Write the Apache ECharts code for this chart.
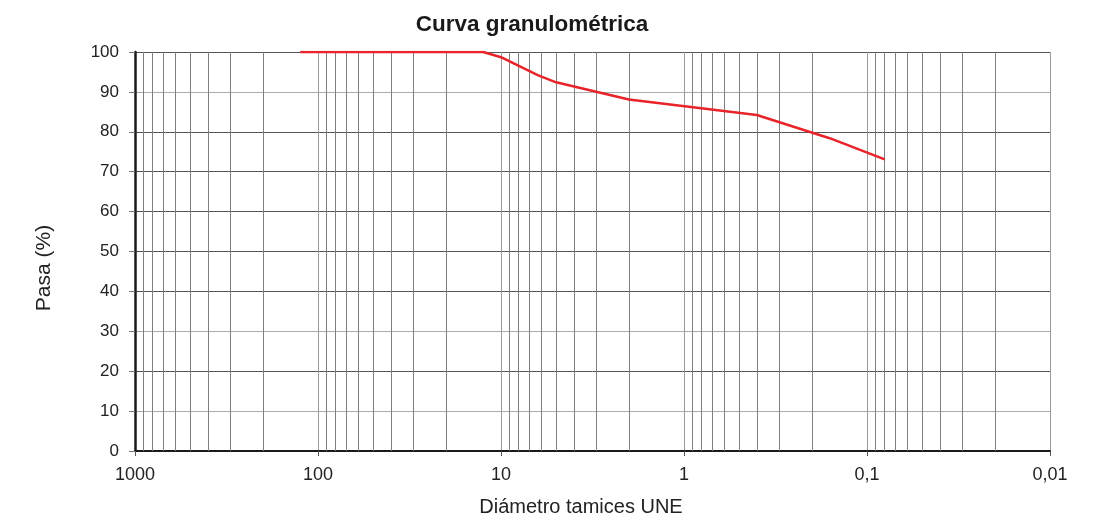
<!DOCTYPE html>
<html><head><meta charset="utf-8">
<script src="https://cdn.jsdelivr.net/npm/echarts@6/dist/echarts.min.js"></script>
<style>html,body{margin:0;padding:0;background:#fff}#c{width:1100px;height:518px}</style>
</head><body><div id="c"></div>
<script>
// Sieve sizes (mm) and percentage passing
const sieveSizes = [125, 80, 63, 50, 40, 25, 20, 12.5, 10, 6.3, 5, 2, 0.4, 0.16, 0.08];
const passing    = [100, 100, 100, 100, 100, 100, 100, 100, 98.7, 94.2, 92.4, 88.1, 84.2, 78.4, 73.1];
const decades = [0.01, 0.1, 1, 10, 100, 1000];
const minorMultipliers = [2, 3, 4, 5, 6, 7, 8, 9];
const yTicks = [0, 10, 20, 30, 40, 50, 60, 70, 80, 90, 100];

const minorLines = [];
decades.slice(0, -1).forEach(d => minorMultipliers.forEach(m => minorLines.push({ xAxis: +(d * m).toPrecision(3) })));

const FONT = '"Liberation Sans", Arial, sans-serif';
const chart = echarts.init(document.getElementById('c'), null, { renderer: 'canvas' });
chart.setOption({
  animation: false,
  backgroundColor: '#fff',
  title: {
    text: 'Curva granulométrica',
    left: 527, top: 8, textAlign: 'center',
    textStyle: { fontFamily: FONT, fontSize: 22.5, fontWeight: 'bold', color: '#1a1a1a' }
  },
  grid: { left: 135, right: 50, top: 52, bottom: 67, outerBoundsMode: 'none', containLabel: false },
  xAxis: {
    type: 'log', logBase: 10, inverse: true, min: 0.01, max: 1000,
    name: 'Diámetro tamices UNE', nameLocation: 'middle', nameGap: 46,
    nameTextStyle: { fontFamily: FONT, fontSize: 20, color: '#222', padding: [0, 23, 0, 0] },
    axisLine: { show: true, onZero: false, lineStyle: { color: '#1a1a1a', width: 2 } },
    axisTick: { show: true, length: 5, lineStyle: { color: '#555' } },
    axisLabel: {
      fontFamily: FONT, fontSize: 18, color: '#222', margin: 15,
      formatter: v => String(+v.toPrecision(3)).replace('.', ',')
    },
    splitLine: { show: true, lineStyle: { color: '#9a9a9a', width: 1 } }
  },
  yAxis: {
    type: 'value', min: 0, max: 100, interval: 10,
    name: 'Pasa (%)', nameLocation: 'middle', nameGap: 80,
    nameTextStyle: { fontFamily: FONT, fontSize: 21, color: '#222', padding: [0, 33, 0, 0] },
    axisLine: { show: true, lineStyle: { color: '#1a1a1a', width: 2.5 } },
    axisTick: { show: true, length: 6, lineStyle: { color: '#777' } },
    axisLabel: { fontFamily: FONT, fontSize: 17, color: '#222', margin: 16 },
    splitLine: { show: true, lineStyle: { color: ['#555', '#aaa', '#555', '#aaa', '#555', '#555', '#555', '#555', '#555', '#aaa', '#555'], width: 1 } }
  },
  series: [{
    type: 'line',
    data: sieveSizes.map((s, i) => [s, passing[i]]),
    showSymbol: false,
    lineStyle: { color: '#e8242a', width: 2.5 },
    z: 5,
    markLine: {
      silent: true, symbol: 'none', animation: false,
      label: { show: false },
      lineStyle: { color: '#7f7f7f', width: 1, type: 'solid' },
      data: minorLines,
      z: 1
    }
  }]
});
</script>
</body></html>
